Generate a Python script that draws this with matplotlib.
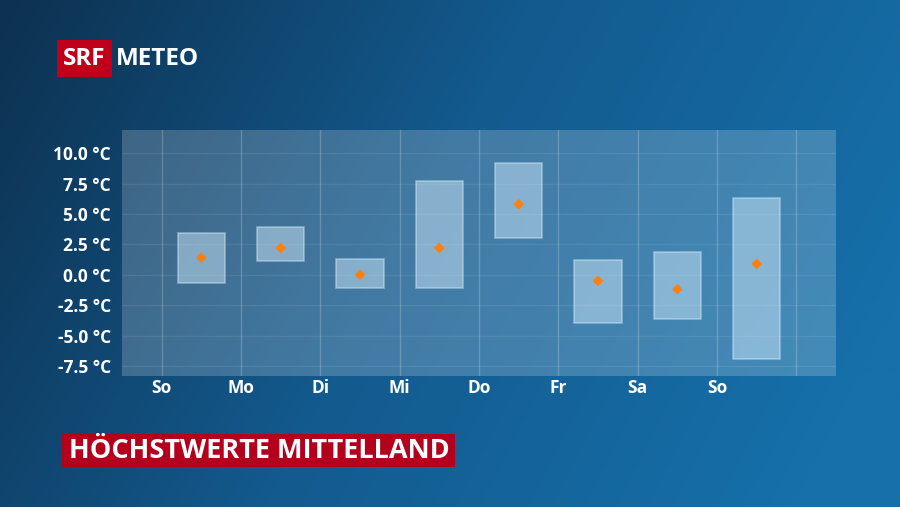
import numpy as np
import matplotlib.pyplot as plt
from matplotlib.colors import LinearSegmentedColormap
from matplotlib.patches import Rectangle

days = ["So", "Mo", "Di", "Mi", "Do", "Fr", "Sa", "So"]
t_low = [-0.7, 1.1, -1.1, -1.1, 3.0, -4.0, -3.6, -6.9]
t_high = [3.4, 3.9, 1.3, 7.7, 9.2, 1.2, 1.9, 6.3]
t_mean = [1.4, 2.2, 0.0, 2.2, 5.8, -0.5, -1.2, 0.9]
yticks = [10.0, 7.5, 5.0, 2.5, 0.0, -2.5, -5.0, -7.5]

font = "Open Sans"

fig = plt.figure(figsize=(9, 5.07), dpi=100)

# background gradient
bg = fig.add_axes([0, 0, 1, 1])
gx, gy = np.meshgrid(np.linspace(0, 1, 300), np.linspace(0, 1, 170))
grad = np.clip(0.85 * gx + 0.25 * gy, 0, 1)
cmap = LinearSegmentedColormap.from_list("bg", ["#0d3150", "#135a8e", "#1670aa"])
bg.imshow(grad, cmap=cmap, aspect="auto", extent=[0, 1, 0, 1], origin="upper")
bg.set_xlim(0, 1)
bg.set_ylim(0, 1)
bg.axis("off")

# plot area: x 122..836, y 130..376 px
ax = fig.add_axes([122 / 900, 1 - 376 / 507, 714 / 900, 246 / 507])
ax.patch.set_facecolor((1, 1, 1, 0.2))
for s in ax.spines.values():
    s.set_visible(False)

ax.set_xlim(-0.5, 8.5)
ax.set_ylim(-8.32, 11.9)

for i in range(9):
    ax.axvline(i, color="white", alpha=0.2, lw=1)
for t in yticks:
    ax.axhline(t, color="white", alpha=0.08, lw=1)

xs = np.arange(len(days)) + 0.5
for x, lo, hi in zip(xs, t_low, t_high):
    ax.add_patch(Rectangle((x - 0.3, lo), 0.6, hi - lo, facecolor=(0.8, 0.9, 0.97, 0.5),
                           edgecolor=(0.85, 0.94, 1.0, 0.45), lw=1.2))
ax.scatter(xs, t_mean, marker="D", s=30, color="#ff7f0e", edgecolor="none", zorder=5)

ax.set_yticks(yticks)
ax.set_yticklabels([f"{t:.1f} °C" for t in yticks])
ax.set_xticks(range(len(days)))
ax.set_xticklabels(days)
ax.tick_params(axis="y", length=0, colors="white", labelsize=12.5, pad=8)
ax.tick_params(axis="x", length=0, colors="white", labelsize=12.5, pad=2)
for lab in ax.get_yticklabels() + ax.get_xticklabels():
    lab.set_fontfamily(font)
    lab.set_fontweight("bold")

# logo
fig.patches.append(Rectangle((57 / 900, 1 - 77 / 507), 55 / 900, 37 / 507,
                             transform=fig.transFigure, facecolor="#c0001a", edgecolor="none"))
fig.text(84.5 / 900, 1 - 59 / 507, "SRF", color="white", fontsize=17.5, fontweight="bold",
         family=font, ha="center", va="center")
fig.text(116 / 900, 1 - 59 / 507, "METEO", color="white", fontsize=17.5, fontweight="bold",
         family=font, ha="left", va="center")

# title
fig.patches.append(Rectangle((62 / 900, 1 - 467 / 507), 393 / 900, 33 / 507,
                             transform=fig.transFigure, facecolor="#b3001d", edgecolor="none"))
fig.text(259 / 900, 1 - 451 / 507, "HÖCHSTWERTE MITTELLAND", color="white", fontsize=19.5,
         fontweight="bold", family=font, ha="center", va="center")

fig.savefig("out.png", dpi=100)
